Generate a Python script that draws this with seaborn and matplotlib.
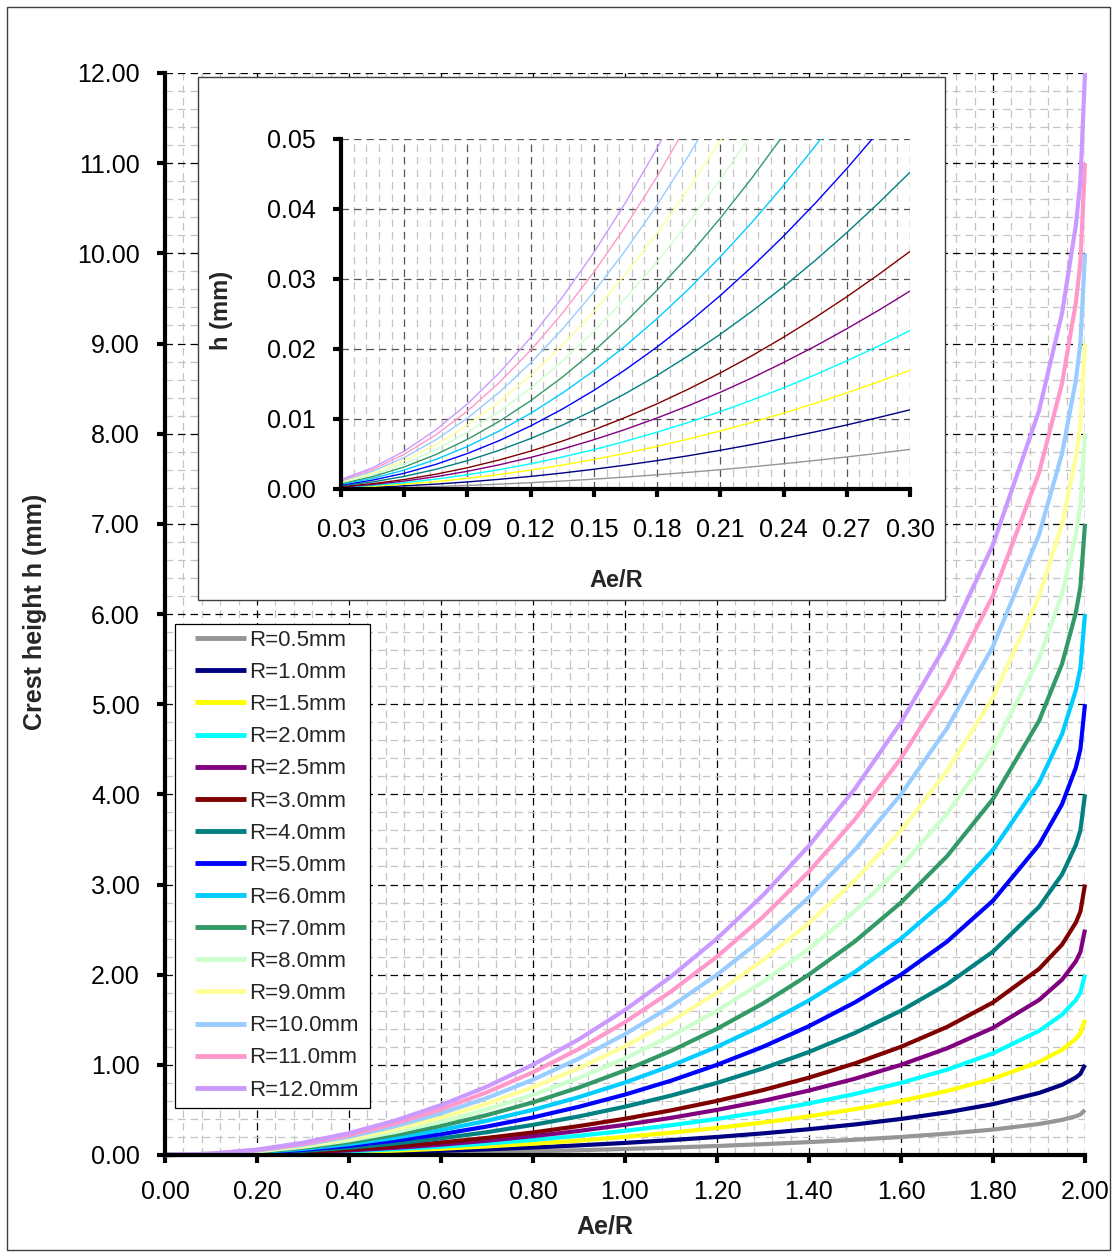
import matplotlib
matplotlib.use("Agg")
import matplotlib.pyplot as plt
import seaborn as sns
import pandas as pd
from matplotlib.ticker import MultipleLocator, FormatStrFormatter
from matplotlib.patches import Rectangle

# ---------------- data ----------------
labels = ["R=0.5mm", "R=1.0mm", "R=1.5mm", "R=2.0mm", "R=2.5mm", "R=3.0mm",
          "R=4.0mm", "R=5.0mm", "R=6.0mm", "R=7.0mm", "R=8.0mm", "R=9.0mm",
          "R=10.0mm", "R=11.0mm", "R=12.0mm"]
colors = ["#969696", "#000080", "#FFFF00", "#00FFFF", "#800080", "#800000",
          "#008080", "#0000FF", "#00CCFF", "#339966", "#CCFFCC", "#FFFF99",
          "#99CCFF", "#FF99CC", "#CC99FF"]

# main chart: Ae/R
ae_main = [0, 0.1, 0.2, 0.3, 0.4, 0.5, 0.6, 0.7, 0.8, 0.9, 1.0, 1.1, 1.2, 1.3,
           1.4, 1.5, 1.6, 1.7, 1.8, 1.9, 1.95, 1.98, 1.99, 2.0]

h_R05 = [0, 0.001, 0.003, 0.006, 0.010, 0.016, 0.023, 0.032, 0.042, 0.053, 0.067, 0.082, 0.100, 0.120, 0.143, 0.169, 0.200, 0.237, 0.282, 0.344, 0.389, 0.429, 0.450, 0.500]
h_R10 = [0, 0.001, 0.005, 0.011, 0.020, 0.032, 0.046, 0.063, 0.083, 0.107, 0.134, 0.165, 0.200, 0.240, 0.286, 0.339, 0.400, 0.473, 0.564, 0.688, 0.778, 0.859, 0.900, 1.000]
h_R15 = [0, 0.002, 0.008, 0.017, 0.030, 0.048, 0.069, 0.095, 0.125, 0.160, 0.201, 0.247, 0.300, 0.360, 0.429, 0.508, 0.600, 0.710, 0.846, 1.032, 1.167, 1.288, 1.350, 1.500]
h_R20 = [0, 0.003, 0.010, 0.023, 0.040, 0.064, 0.092, 0.127, 0.167, 0.214, 0.268, 0.330, 0.400, 0.480, 0.572, 0.677, 0.800, 0.946, 1.128, 1.376, 1.556, 1.718, 1.800, 2.000]
h_R25 = [0, 0.003, 0.013, 0.028, 0.051, 0.079, 0.115, 0.158, 0.209, 0.267, 0.335, 0.412, 0.500, 0.600, 0.715, 0.846, 1.000, 1.183, 1.410, 1.719, 1.944, 2.147, 2.250, 2.500]
h_R30 = [0, 0.004, 0.015, 0.034, 0.061, 0.095, 0.138, 0.190, 0.250, 0.321, 0.402, 0.495, 0.600, 0.720, 0.858, 1.016, 1.200, 1.420, 1.692, 2.063, 2.333, 2.577, 2.700, 3.000]
h_R40 = [0, 0.005, 0.020, 0.045, 0.081, 0.127, 0.184, 0.253, 0.334, 0.428, 0.536, 0.659, 0.800, 0.960, 1.143, 1.354, 1.600, 1.893, 2.256, 2.751, 3.111, 3.436, 3.601, 4.000]
h_R50 = [0, 0.006, 0.025, 0.057, 0.101, 0.159, 0.230, 0.316, 0.417, 0.535, 0.670, 0.824, 1.000, 1.200, 1.429, 1.693, 2.000, 2.366, 2.821, 3.439, 3.889, 4.295, 4.501, 5.000]
h_R60 = [0, 0.008, 0.030, 0.068, 0.121, 0.191, 0.276, 0.380, 0.501, 0.642, 0.804, 0.989, 1.200, 1.440, 1.715, 2.031, 2.400, 2.839, 3.385, 4.127, 4.667, 5.154, 5.401, 6.000]
h_R70 = [0, 0.009, 0.035, 0.079, 0.141, 0.222, 0.322, 0.443, 0.584, 0.749, 0.938, 1.154, 1.400, 1.680, 2.001, 2.370, 2.800, 3.313, 3.949, 4.814, 5.445, 6.013, 6.301, 7.000]
h_R80 = [0, 0.010, 0.040, 0.091, 0.162, 0.254, 0.368, 0.506, 0.668, 0.856, 1.072, 1.319, 1.600, 1.921, 2.287, 2.708, 3.200, 3.786, 4.513, 5.502, 6.222, 6.871, 7.201, 8.000]
h_R90 = [0, 0.011, 0.045, 0.102, 0.182, 0.286, 0.415, 0.569, 0.751, 0.963, 1.206, 1.484, 1.800, 2.161, 2.573, 3.047, 3.600, 4.259, 5.077, 6.190, 7.000, 7.730, 8.101, 9.000]
h_R100 = [0, 0.013, 0.050, 0.113, 0.202, 0.318, 0.461, 0.633, 0.835, 1.070, 1.340, 1.648, 2.000, 2.401, 2.859, 3.386, 4.000, 4.732, 5.641, 6.878, 7.778, 8.589, 9.001, 10.000]
h_R110 = [0, 0.014, 0.055, 0.124, 0.222, 0.349, 0.507, 0.696, 0.918, 1.177, 1.474, 1.813, 2.200, 2.641, 3.144, 3.724, 4.400, 5.205, 6.205, 7.565, 8.556, 9.448, 9.901, 11.000]
h_R120 = [0, 0.015, 0.060, 0.136, 0.242, 0.381, 0.553, 0.759, 1.002, 1.284, 1.608, 1.978, 2.400, 2.881, 3.430, 4.063, 4.800, 5.679, 6.769, 8.253, 9.334, 10.307, 10.802, 12.000]

# inset: small Ae/R range
ae_inset = [0.03, 0.045, 0.06, 0.075, 0.09, 0.105, 0.12, 0.135, 0.15, 0.165, 0.18,
            0.195, 0.21, 0.225, 0.24, 0.255, 0.27, 0.285, 0.30]

i_R05 = [0.00006, 0.00013, 0.00023, 0.00035, 0.00051, 0.00069, 0.00090, 0.00114, 0.00141, 0.00170, 0.00203, 0.00238, 0.00276, 0.00317, 0.00361, 0.00408, 0.00458, 0.00510, 0.00566]
i_R10 = [0.00011, 0.00025, 0.00045, 0.00070, 0.00101, 0.00138, 0.00180, 0.00228, 0.00282, 0.00341, 0.00406, 0.00476, 0.00553, 0.00635, 0.00723, 0.00816, 0.00915, 0.01021, 0.01131]
i_R15 = [0.00017, 0.00038, 0.00068, 0.00105, 0.00152, 0.00207, 0.00270, 0.00342, 0.00422, 0.00511, 0.00609, 0.00715, 0.00829, 0.00952, 0.01084, 0.01224, 0.01373, 0.01531, 0.01697]
i_R20 = [0.00023, 0.00051, 0.00090, 0.00141, 0.00203, 0.00276, 0.00360, 0.00456, 0.00563, 0.00682, 0.00812, 0.00953, 0.01106, 0.01270, 0.01445, 0.01632, 0.01831, 0.02041, 0.02263]
i_R25 = [0.00028, 0.00063, 0.00113, 0.00176, 0.00253, 0.00345, 0.00451, 0.00570, 0.00704, 0.00852, 0.01015, 0.01191, 0.01382, 0.01587, 0.01807, 0.02040, 0.02289, 0.02551, 0.02828]
i_R30 = [0.00034, 0.00076, 0.00135, 0.00211, 0.00304, 0.00414, 0.00541, 0.00684, 0.00845, 0.01023, 0.01217, 0.01429, 0.01658, 0.01904, 0.02168, 0.02448, 0.02746, 0.03062, 0.03394]
i_R40 = [0.00045, 0.00101, 0.00180, 0.00281, 0.00405, 0.00552, 0.00721, 0.00912, 0.01126, 0.01364, 0.01623, 0.01906, 0.02211, 0.02539, 0.02890, 0.03264, 0.03662, 0.04082, 0.04525]
i_R50 = [0.00056, 0.00127, 0.00225, 0.00352, 0.00507, 0.00690, 0.00901, 0.01141, 0.01408, 0.01705, 0.02029, 0.02382, 0.02764, 0.03174, 0.03613, 0.04081, 0.04577, 0.05103, 0.05657]
i_R60 = [0.00068, 0.00152, 0.00270, 0.00422, 0.00608, 0.00827, 0.01081, 0.01369, 0.01690, 0.02045, 0.02435, 0.02858, 0.03317, 0.03809, 0.04336, 0.04897, 0.05492, 0.06123, 0.06788]
i_R70 = [0.00079, 0.00177, 0.00315, 0.00492, 0.00709, 0.00965, 0.01261, 0.01597, 0.01971, 0.02386, 0.02841, 0.03335, 0.03870, 0.04444, 0.05058, 0.05713, 0.06408, 0.07144, 0.07919]
i_R80 = [0.00090, 0.00202, 0.00360, 0.00562, 0.00810, 0.01103, 0.01442, 0.01825, 0.02253, 0.02727, 0.03246, 0.03811, 0.04422, 0.05078, 0.05781, 0.06529, 0.07323, 0.08164, 0.09050]
i_R90 = [0.00101, 0.00228, 0.00405, 0.00633, 0.00912, 0.01241, 0.01622, 0.02053, 0.02534, 0.03068, 0.03652, 0.04288, 0.04975, 0.05713, 0.06503, 0.07345, 0.08239, 0.09185, 0.10182]
i_R100 = [0.00113, 0.00253, 0.00450, 0.00703, 0.01013, 0.01379, 0.01802, 0.02281, 0.02816, 0.03409, 0.04058, 0.04764, 0.05528, 0.06348, 0.07226, 0.08161, 0.09154, 0.10205, 0.11313]
i_R110 = [0.00124, 0.00278, 0.00495, 0.00773, 0.01114, 0.01517, 0.01982, 0.02509, 0.03098, 0.03750, 0.04464, 0.05240, 0.06081, 0.06983, 0.07949, 0.08977, 0.10069, 0.11226, 0.12444]
i_R120 = [0.00135, 0.00304, 0.00540, 0.00844, 0.01216, 0.01655, 0.02162, 0.02737, 0.03379, 0.04091, 0.04870, 0.05717, 0.06634, 0.07618, 0.08671, 0.09793, 0.10985, 0.12246, 0.13576]

main_series = [h_R05, h_R10, h_R15, h_R20, h_R25, h_R30, h_R40, h_R50, h_R60,
               h_R70, h_R80, h_R90, h_R100, h_R110, h_R120]
inset_series = [i_R05, i_R10, i_R15, i_R20, i_R25, i_R30, i_R40, i_R50, i_R60,
                i_R70, i_R80, i_R90, i_R100, i_R110, i_R120]

rows = []
for lab, hs in zip(labels, main_series):
    for a, h in zip(ae_main, hs):
        rows.append({"ae": a, "h": h, "series": lab})
df_main = pd.DataFrame(rows)
rows = []
for lab, hs in zip(labels, inset_series):
    for a, h in zip(ae_inset, hs):
        rows.append({"ae": a, "h": h, "series": lab})
df_inset = pd.DataFrame(rows)
palette = dict(zip(labels, colors))

# ---------------- style ----------------
sns.set_style("white")
plt.rcParams["font.family"] = ["Liberation Sans", "DejaVu Sans"]

W, H = 1114, 1258
fig = plt.figure(figsize=(W / 100, H / 100), dpi=100)
fig.patch.set_facecolor("white")

def fx(px):
    return px / W

def fy(py):
    return 1 - py / H

# main axes
ax = fig.add_axes([fx(165), fy(1155), fx(1085) - fx(165), fy(73) - fy(1155)])
ax.set_zorder(0)
sns.lineplot(data=df_main, x="ae", y="h", hue="series", hue_order=labels,
             palette=palette, linewidth=3.0, estimator=None, sort=False,
             ax=ax, legend=True)
for ln in ax.get_lines():
    ln.set_clip_on(False)
    ln.set_solid_capstyle("butt")

ax.set_xlim(0, 2.0)
ax.set_ylim(0, 12.0)
ax.xaxis.set_major_locator(MultipleLocator(0.2))
ax.xaxis.set_minor_locator(MultipleLocator(0.04))
ax.yaxis.set_major_locator(MultipleLocator(1.0))
ax.yaxis.set_minor_locator(MultipleLocator(0.2))
ax.xaxis.set_major_formatter(FormatStrFormatter("%.2f"))
ax.yaxis.set_major_formatter(FormatStrFormatter("%.2f"))
ax.grid(which="minor", color="#c4c4c4", linestyle=(0, (6, 4)), linewidth=0.9)
ax.grid(which="major", color="black", linestyle=(0, (6, 4)), linewidth=0.9)
ax.set_axisbelow(True)
for s in ["top", "right"]:
    ax.spines[s].set_visible(False)
for s in ["left", "bottom"]:
    ax.spines[s].set_linewidth(3.0)
    ax.spines[s].set_color("black")
ax.tick_params(which="major", bottom=True, left=True, direction="out",
               length=6, width=3, labelsize=18, pad=12, colors="black")
ax.tick_params(which="minor", bottom=False, left=False)
ax.set_xlabel("Ae/R", fontsize=18, fontweight="bold")
ax.set_ylabel("Crest height h (mm)", fontsize=18, fontweight="bold")
ax.xaxis.set_label_coords((605 - 165) / 920, (1155 - 1214) / 1082)
ax.yaxis.set_label_coords((47 - 165) / 920, (1155 - 612) / 1082)

# legend frame (drawn separately for exact size) + legend entries
legbox = Rectangle((fx(175), fy(1108)), fx(370) - fx(175), fy(624) - fy(1108),
                   transform=fig.transFigure, facecolor="white",
                   edgecolor="black", linewidth=0.9, zorder=4, clip_on=False)
ax.add_artist(legbox)
handles, labs = ax.get_legend_handles_labels()
leg = ax.legend(handles, labs, loc="upper left",
                bbox_to_anchor=(fx(195), fy(630)), bbox_transform=fig.transFigure,
                borderaxespad=0, frameon=False, fontsize=16,
                handlelength=2.3, handletextpad=0.13, labelspacing=0.5,
                borderpad=0)
leg.set_zorder(5)
for ln in leg.get_lines():
    ln.set_linewidth(3.5)

# inset box
box = Rectangle((fx(198), fy(600)), fx(945) - fx(198), fy(77) - fy(600),
                transform=fig.transFigure, facecolor="white",
                edgecolor="#404040", linewidth=1.0, zorder=1)
fig.patches.append(box)

ax2 = fig.add_axes([fx(341), fy(489), fx(910) - fx(341), fy(139) - fy(489)])
ax2.set_zorder(2)
sns.lineplot(data=df_inset, x="ae", y="h", hue="series", hue_order=labels,
             palette=palette, linewidth=1.0, estimator=None, sort=False,
             ax=ax2, legend=False)
ax2.set_xlim(0.03, 0.30)
ax2.set_ylim(0, 0.05)
ax2.xaxis.set_major_locator(MultipleLocator(0.03))
ax2.xaxis.set_minor_locator(MultipleLocator(0.006))
ax2.yaxis.set_major_locator(MultipleLocator(0.01))
ax2.xaxis.set_major_formatter(FormatStrFormatter("%.2f"))
ax2.yaxis.set_major_formatter(FormatStrFormatter("%.2f"))
ax2.grid(which="minor", axis="x", color="#c4c4c4", linestyle=(0, (6, 4)), linewidth=0.9)
ax2.grid(which="major", color="#555555", linestyle=(0, (6, 4)), linewidth=0.9)
ax2.set_axisbelow(True)
for s in ["top", "right"]:
    ax2.spines[s].set_visible(False)
for s in ["left", "bottom"]:
    ax2.spines[s].set_linewidth(3.0)
    ax2.spines[s].set_color("black")
ax2.tick_params(which="major", bottom=True, left=True, direction="out",
                length=6, width=3, labelsize=18, pad=12, colors="black")
ax2.tick_params(axis="x", which="major", pad=15)
ax2.tick_params(which="minor", bottom=False, left=False)
ax2.set_xlabel("Ae/R", fontsize=17, fontweight="bold")
ax2.set_ylabel("h (mm)", fontsize=17, fontweight="bold")
ax2.xaxis.set_label_coords((616 - 341) / 569, (489 - 569) / 350)
ax2.yaxis.set_label_coords((233 - 341) / 569, (489 - 310) / 350)

# outer frame
frame = Rectangle((fx(7), fy(1250)), fx(1110) - fx(7), fy(7) - fy(1250),
                  transform=fig.transFigure, facecolor="none",
                  edgecolor="#404040", linewidth=1.0, zorder=10)
fig.patches.append(frame)

fig.savefig("out.png", dpi=100, facecolor="white")
